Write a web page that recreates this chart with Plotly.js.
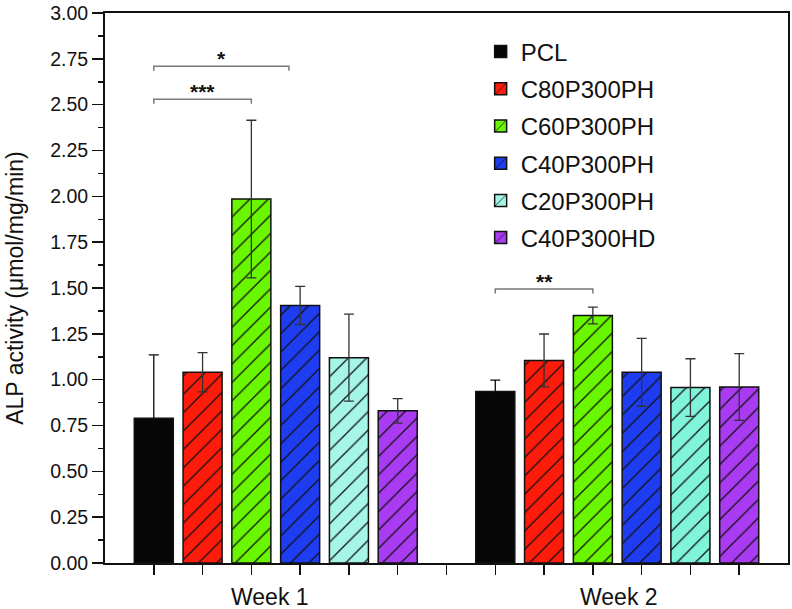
<!DOCTYPE html>
<html>
<head>
<meta charset="utf-8">
<script src="https://cdn.plot.ly/plotly-3.0.1.min.js"></script>
<style>
  html, body { margin: 0; padding: 0; background: #fff; }
  #chart { width: 792px; height: 609px; }
</style>
</head>
<body>
<div id="chart"></div>
<script>
// groups on the x axis and where each group starts
const groups = ['Week 1', 'Week 2'];
const groupStart = [1, 8];
const groupLabelPos = [3.38, 10.54];

// series
const seriesNames = ['PCL', 'C80P300PH', 'C60P300PH', 'C40P300PH', 'C20P300PH', 'C40P300HD'];
const week1 = [0.79, 1.04, 1.985, 1.405, 1.12, 0.83];
const week2 = [0.935, 1.105, 1.35, 1.04, 0.957, 0.96];
const err1 = [0.345, 0.107, 0.43, 0.104, 0.237, 0.067];
const err2 = [0.063, 0.144, 0.046, 0.185, 0.157, 0.182];

// colour per series, per week (the C20 bar is paler in week 1)
const colorsW1 = ['#060606', '#fd1c0c', '#6af500', '#1f3df0', '#a6f6e8', '#a93cf2'];
const colorsW2 = ['#060606', '#fd1c0c', '#6af500', '#1f3df0', '#80f4da', '#a93cf2'];
const errColors = ['#0a0a0a', '#333', '#333', '#333', '#333', '#333'];
const hatch = ['', '/', '/', '/', '/', '/'];

// significance brackets
const brackets = [
    {x0: 1, x1: 3.77, y: 2.71, label: '*'},
    {x0: 1, x1: 3.0, y: 2.53, label: '***'},
    {x0: 8, x1: 10, y: 1.495, label: '**'}
];

const font = 'Liberation Sans, Arial, sans-serif';

const weekValues = [week1, week2];
const weekErrors = [err1, err2];
const weekColors = [colorsW1, colorsW2];

const traces = [];
seriesNames.forEach((name, i) => {
    groups.forEach((g, k) => {
        traces.push({
            x: [groupStart[k] + i],
            y: [weekValues[k][i]],
            name: name,
            legendgroup: name,
            showlegend: k === 0,
            type: 'bar',
            width: 0.8,
            marker: {
                color: weekColors[k][i],
                line: {color: '#111', width: 1.5},
                pattern: {
                    shape: hatch[i],
                    fillmode: 'overlay',
                    fgcolor: '#111',
                    fgopacity: 1,
                    size: 13,
                    solidity: 0.1
                }
            },
            error_y: {
                type: 'data',
                array: [weekErrors[k][i]],
                visible: true,
                color: errColors[i],
                thickness: 1.3,
                width: 5
            },
            hoverinfo: 'skip'
        });
    });
});

const shapes = brackets.map(b => ({
    type: 'path',
    xref: 'x', yref: 'y',
    path: `M ${b.x0},${b.y - 0.025} L ${b.x0},${b.y} L ${b.x1},${b.y} L ${b.x1},${b.y - 0.025}`,
    line: {color: '#7a7a7a', width: 1.5}
}));

const annotations = brackets.map(b => ({
    x: (b.x0 + b.x1) / 2,
    y: b.y,
    xref: 'x', yref: 'y',
    text: '<b>' + b.label + '</b>',
    showarrow: false,
    yanchor: 'bottom',
    yshift: -6,
    font: {family: font, size: 21, color: '#111'}
})).concat(groups.map((g, k) => ({
    x: groupLabelPos[k],
    y: 0,
    xref: 'x', yref: 'paper',
    text: g,
    showarrow: false,
    yanchor: 'middle',
    yshift: -34,
    font: {family: font, size: 23, color: '#111'}
})));

const ticks = [];
for (let t = 1; t <= 13; t++) ticks.push(t);

const layout = {
    width: 792,
    height: 609,
    margin: {l: 105, r: 4, t: 13, b: 46},
    paper_bgcolor: '#fff',
    plot_bgcolor: '#fff',
    barmode: 'overlay',
    showlegend: true,
    font: {family: font, color: '#111'},
    xaxis: {
        range: [0, 14],
        tickvals: ticks,
        showticklabels: false,
        ticks: 'outside',
        ticklen: 10,
        tickwidth: 1.5,
        tickcolor: '#111',
        showline: true,
        linecolor: '#111',
        linewidth: 2,
        mirror: true,
        showgrid: false,
        zeroline: false
    },
    yaxis: {
        range: [0, 3],
        dtick: 0.25,
        tickformat: '.2f',
        ticks: 'outside',
        ticklen: 11,
        tickwidth: 1.5,
        tickcolor: '#111',
        minor: {dtick: 0.125, ticks: 'outside', ticklen: 5, tickwidth: 1.5, tickcolor: '#111'},
        tickfont: {family: font, size: 19.5, color: '#111'},
        showline: true,
        linecolor: '#111',
        linewidth: 2,
        mirror: true,
        showgrid: false,
        zeroline: false,
        title: {text: 'ALP activity (μmol/mg/min)', font: {family: font, size: 23, color: '#111'}, standoff: 20}
    },
    legend: {
        x: 0.55, y: 0.97,
        xanchor: 'left', yanchor: 'top',
        bgcolor: 'rgba(0,0,0,0)',
        font: {family: font, size: 24, color: '#111'},
        itemwidth: 30,
        tracegroupgap: 3
    },
    shapes: shapes,
    annotations: annotations
};

Plotly.newPlot('chart', traces, layout, {displayModeBar: false, staticPlot: true});
</script>
</body>
</html>
